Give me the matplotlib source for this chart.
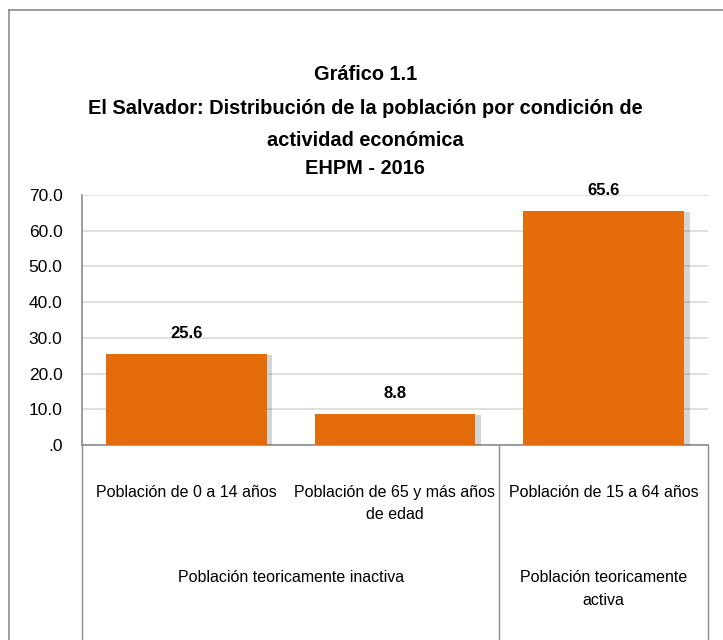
import matplotlib
matplotlib.use("Agg")
import matplotlib.pyplot as plt
import matplotlib.patheffects as pe
from matplotlib.lines import Line2D

plt.rcParams['font.family'] = ['Liberation Sans', 'DejaVu Sans']

# data
categories = ['Población de 0 a 14 años', 'Población de 65 y más años\nde edad', 'Población de 15 a 64 años']
values = [25.6, 8.8, 65.6]
groups = ['Población teoricamente inactiva', 'Población teoricamente\nactiva']
group_centers = [0.5, 2.0]
yticks = [0, 10, 20, 30, 40, 50, 60, 70]
ytick_labels = ['.0', '10.0', '20.0', '30.0', '40.0', '50.0', '60.0', '70.0']
title_lines = ['Gráfico 1.1',
               'El Salvador: Distribución de la población por condición de',
               'actividad económica',
               'EHPM - 2016']

W, H = 723, 640
fig = plt.figure(figsize=(W / 100, H / 100), dpi=100)

# outer frame (only left and top visible in the crop)
fig.add_artist(Line2D([9 / W, 9 / W], [0, 1 - 10 / H], color='#8c8c8c', lw=1.2))
fig.add_artist(Line2D([9 / W, 1], [1 - 10 / H, 1 - 10 / H], color='#8c8c8c', lw=1.2))

ax_top, ax_bot = 195, 445
ax = fig.add_axes([82 / W, 1 - ax_bot / H, (708 - 82) / W, (ax_bot - ax_top) / H])
bars = ax.bar(range(3), values, width=0.77, color='#E46C0A', zorder=3)
for b in bars:
    b.set_path_effects([pe.SimplePatchShadow(offset=(4, -1), alpha=0.22, shadow_rgbFace='#404040'),
                        pe.Normal()])

for i, v in enumerate(values):
    ax.annotate(f'{v:.1f}', (i, v), xytext=(0, 9), textcoords='offset points',
                ha='center', va='bottom', fontsize=12, fontweight='bold')

ax.set_xlim(-0.5, 2.5)
ax.set_ylim(0, 70)
ax.set_yticks(yticks)
ax.set_yticklabels(ytick_labels, fontsize=12.5)
ax.set_xticks([])
ax.tick_params(axis='y', length=0, pad=14)
ax.grid(axis='y', color='#d9d9d9', lw=1.2, zorder=0)
for s in ['top', 'right']:
    ax.spines[s].set_visible(False)
ax.spines['left'].set_color('#8c8c8c')
ax.spines['bottom'].set_color('#8c8c8c')
ax.spines['left'].set_linewidth(1.2)
ax.spines['bottom'].set_linewidth(1.2)

# multi-level category axis
ah = ax_bot - ax_top
trans = ax.get_xaxis_transform()
for x in [-0.5, 1.5, 2.5]:
    ax.plot([x, x], [0, -(H - ax_bot) / ah], transform=trans, color='#8c8c8c', lw=1, clip_on=False)
for i, c in enumerate(categories):
    ax.text(i, -(485 - ax_bot) / ah, c, transform=trans, ha='center', va='top', fontsize=11.5,
            linespacing=1.6)
for gx, g in zip(group_centers, groups):
    ax.text(gx, -(570 - ax_bot) / ah, g, transform=trans, ha='center', va='top', fontsize=11.5,
            linespacing=1.65)

# title
for y, t in zip([74, 108, 141, 168], title_lines):
    fig.text(0.505, 1 - y / H, t, ha='center', va='center', fontsize=14.4, fontweight='bold')

fig.savefig('out.png', dpi=100, facecolor='white')
